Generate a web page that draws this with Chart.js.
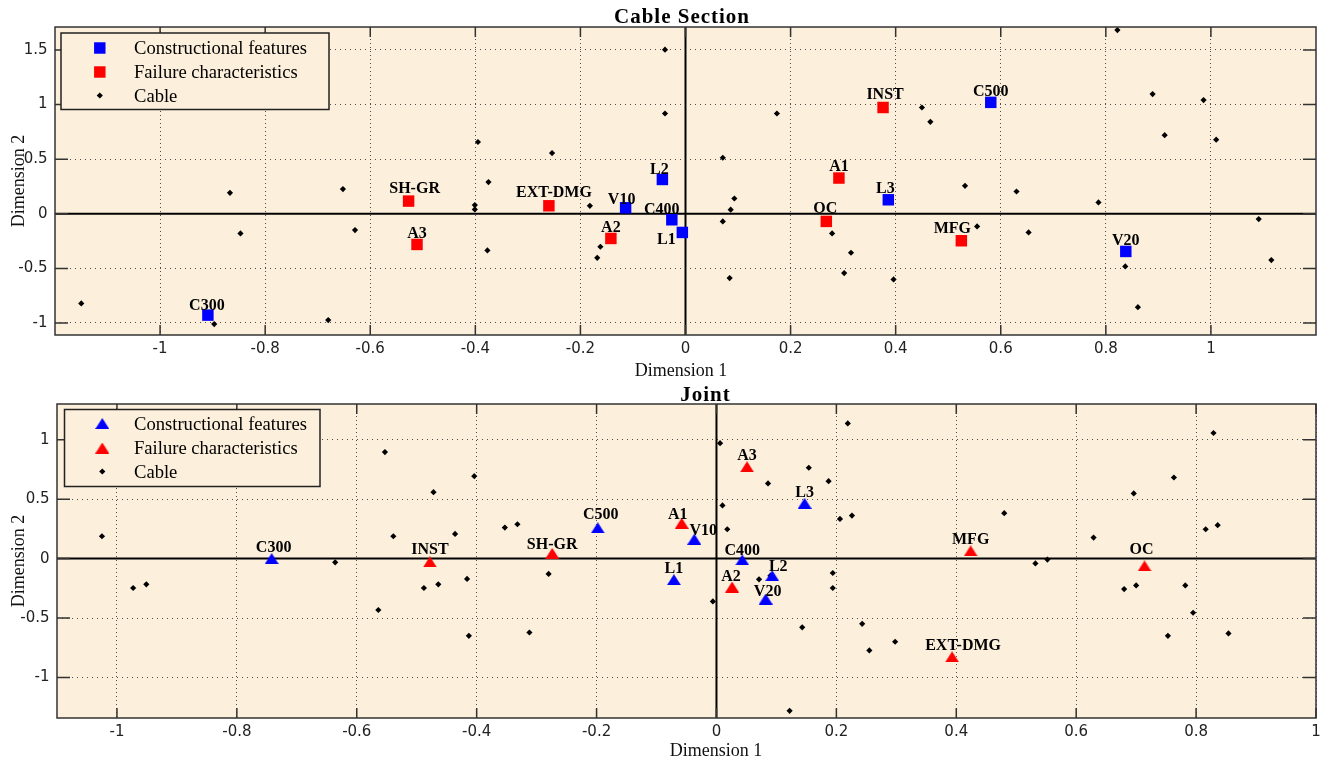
<!DOCTYPE html>
<html>
<head>
<meta charset="utf-8">
<title>Cable Section / Joint</title>
<script src="https://cdn.jsdelivr.net/npm/chart.js@4.4.0/dist/chart.umd.min.js"></script>
<style>
  html, body { margin: 0; padding: 0; background: #fff; }
  #wrap { position: relative; width: 1329px; height: 763px; overflow: hidden; background: #fff; }
  #wrap canvas { position: absolute; left: 0; }
  #cs { top: 0; width: 1329px; height: 380px; }
  #jt { top: 380px; width: 1329px; height: 383px; }
</style>
</head>
<body>
<div id="wrap">
  <canvas id="cs" width="1329" height="380"></canvas>
  <canvas id="jt" width="1329" height="383"></canvas>
</div>
<script>
// ---------------- Cable section ----------------
const csConsLabels = ['C300', 'C400', 'C500', 'L1', 'L2', 'L3', 'V10', 'V20'];
const csConsX = [-0.909, -0.026, 0.581, -0.006, -0.044, 0.386, -0.114, 0.838];
const csConsY = [-0.928, -0.055, 1.020, -0.171, 0.314, 0.128, 0.055, -0.345];

const csFailLabels = ['A1', 'A2', 'A3', 'SH-GR', 'EXT-DMG', 'INST', 'OC', 'MFG'];
const csFailX = [0.292, -0.142, -0.511, -0.527, -0.260, 0.376, 0.268, 0.525];
const csFailY = [0.327, -0.226, -0.281, 0.116, 0.073, 0.973, -0.070, -0.247];

const csCableX = [-0.039, 0.822, -0.039, 0.174, 0.450, 0.466, 0.889, 0.986, 0.912, 1.010,
                  -0.395, -0.254, 0.071, -0.375, 0.093, -0.867, -0.652, -0.401, -0.401, -0.182,
                  0.086, 0.071, 0.279, 0.315, 0.302, 0.084, -0.377, -0.162, -0.168, -0.629,
                  -0.847, -1.150, -0.897, -0.680, 0.532, 0.630, 0.786, 0.555, 0.653, 1.091,
                  1.115, 0.837, 0.861, 0.396];
const csCableY = [1.502, 1.682, 0.918, 0.918, 0.973, 0.842, 1.096, 1.041, 0.720, 0.678,
                  0.657, 0.556, 0.513, 0.290, 0.140, 0.192, 0.226, 0.080, 0.040, 0.073,
                  0.037, -0.070, -0.180, -0.357, -0.543, -0.589, -0.336, -0.302, -0.403, -0.149,
                  -0.180, -0.821, -1.010, -0.973, 0.256, 0.204, 0.104, -0.116, -0.171, -0.049,
                  -0.424, -0.482, -0.855, -0.601];

const csXTicks = [-1, -0.8, -0.6, -0.4, -0.2, 0, 0.2, 0.4, 0.6, 0.8, 1];
const csYTicks = [-1, -0.5, 0, 0.5, 1, 1.5];

// ---------------- Joint ----------------
const jtConsLabels = ['C300', 'C400', 'C500', 'L1', 'L2', 'L3', 'V10', 'V20'];
const jtConsX = [-0.742, 0.043, -0.198, -0.071, 0.093, 0.147, -0.037, 0.082];
const jtConsY = [0.000, -0.011, 0.259, -0.177, -0.143, 0.465, 0.163, -0.340];

const jtFailLabels = ['A1', 'A2', 'A3', 'SH-GR', 'EXT-DMG', 'INST', 'OC', 'MFG'];
const jtFailX = [-0.058, 0.026, 0.051, -0.274, 0.393, -0.478, 0.714, 0.424];
const jtFailY = [0.297, -0.239, 0.772, 0.044, -0.826, -0.028, -0.062, 0.065];

const jtCableX = [-1.025, -0.553, -0.539, -0.472, -0.636, -0.404, -0.436, -0.353, -0.332, 0.006,
                  0.219, 0.154, 0.086, 0.187, 0.010, 0.018, 0.206, 0.226, -0.416, -0.280,
                  0.071, 0.090, 0.194, 0.194, -0.006, 0.143, 0.243, 0.255, 0.122, -0.312,
                  -0.413, -0.488, -0.464, -0.973, -0.951, -0.564, 0.829, 0.763, 0.696, 0.480,
                  0.629, 0.816, 0.836, 0.532, 0.552, 0.680, 0.700, 0.782, 0.795, 0.753,
                  0.854, 0.298];
const jtCableY = [0.188, 0.896, 0.188, 0.559, -0.031, 0.693, 0.208, 0.261, 0.289, 0.971,
                  1.137, 0.764, 0.632, 0.651, 0.447, 0.247, 0.334, 0.362, -0.171, -0.129,
                  -0.174, -0.143, -0.121, -0.247, -0.360, -0.578, -0.548, -0.772, -1.280, -0.621,
                  -0.649, -0.247, -0.216, -0.247, -0.216, -0.432, 1.056, 0.682, 0.548, 0.382,
                  0.177, 0.247, 0.281, -0.040, -0.008, -0.256, -0.225, -0.225, -0.455, -0.649,
                  -0.629, -0.699];

const jtXTicks = [-1, -0.8, -0.6, -0.4, -0.2, 0, 0.2, 0.4, 0.6, 0.8, 1];
const jtYTicks = [-1, -0.5, 0, 0.5, 1];

const seriesNames = ['Constructional features', 'Failure characteristics', 'Cable'];

// Label placement tweaks (pixel offsets of the text centre from the marker)
const csLabelShift = {
  'C400': { dx: -10, dy: -11 }, 'L1': { dx: -16, dy: 6 }, 'V10': { dx: -4, dy: -9 },
  'MFG': { dx: -9, dy: -13 }, 'SH-GR': { dx: 6, dy: -13 }, 'EXT-DMG': { dx: 5, dy: -14 },
  'INST': { dx: 2, dy: -14 }, 'OC': { dx: -1, dy: -14 }, 'L2': { dx: -3, dy: -11 },
  'L3': { dx: -3, dy: -12 }, 'C300': { dx: -1, dy: -10 }
};
const jtLabelShift = {
  'V10': { dx: 9, dy: -10 }, 'EXT-DMG': { dx: 11, dy: -12 }, 'OC': { dx: -3, dy: -17 },
  'L2': { dx: 6, dy: -10 }, 'C500': { dx: 3, dy: -14 }, 'A1': { dx: -4, dy: -10 },
  'SH-GR': { dx: 0, dy: -10 }, 'C400': { dx: 0, dy: -10 }, 'A2': { dx: -1, dy: -11 },
  'V20': { dx: 2, dy: -8 }, 'C300': { dx: 2, dy: -12 }, 'INST': { dx: 0, dy: -13 }
};

// ---------------- styling ----------------
const SERIF = '"Liberation Serif", "Times New Roman", Times, serif';
const SANS = '"DejaVu Sans", "Liberation Sans", sans-serif';
const FACE = 'rgb(252,239,219)';
const BLUE = '#0000ff';
const RED = '#ff0000';

function triangleSprite(color) {
  const c = document.createElement('canvas');
  c.width = 14; c.height = 11;
  const g = c.getContext('2d');
  g.fillStyle = color;
  g.beginPath();
  g.moveTo(7, 0); g.lineTo(14, 11); g.lineTo(0, 11);
  g.closePath();
  g.fill();
  return c;
}

function pairs(xs, ys) { return xs.map((x, i) => ({ x: x, y: ys[i] })); }
function fmtTick(v) { return String(Math.round(v * 10) / 10); }

function markerSet(label, xs, ys, names, style, color, radius) {
  return {
    label: label, data: pairs(xs, ys), pointLabels: names,
    pointStyle: style, pointRadius: radius, pointHoverRadius: radius,
    backgroundColor: color, borderColor: color, pointBorderWidth: 0, borderWidth: 0
  };
}

function drawMarker(ctx, ds, x, y) {
  const st = ds.pointStyle, r = ds.pointRadius;
  ctx.fillStyle = ds.backgroundColor;
  if (typeof st === 'object') {
    ctx.drawImage(st, x - st.width / 2, y - st.height / 2);
  } else if (st === 'rect') {
    const h = Math.SQRT1_2 * r;
    ctx.fillRect(x - h, y - h, 2 * h, 2 * h);
  } else {
    ctx.beginPath();
    ctx.moveTo(x - r, y); ctx.lineTo(x, y - r); ctx.lineTo(x + r, y); ctx.lineTo(x, y + r);
    ctx.closePath(); ctx.fill();
  }
}

// Axes decoration in the classic figure style: face colour, origin lines,
// box frame with inward ticks, point captions, boxed legend and titles.
function makeDecor(spec) {
  return {
    id: 'decor',
    beforeDraw(chart) {
      const { ctx, chartArea: a } = chart;
      ctx.save();
      ctx.fillStyle = FACE;
      ctx.fillRect(a.left, a.top, a.right - a.left, a.bottom - a.top);
      ctx.restore();
    },
    beforeDatasetsDraw(chart) {
      const { ctx, chartArea: a, scales } = chart;
      const x0 = scales.x.getPixelForValue(0), y0 = scales.y.getPixelForValue(0);
      ctx.save();
      ctx.strokeStyle = '#000';
      ctx.lineWidth = 2;
      ctx.beginPath();
      ctx.moveTo(a.left, y0); ctx.lineTo(a.right, y0);
      ctx.moveTo(x0, a.top); ctx.lineTo(x0, a.bottom);
      ctx.stroke();
      ctx.restore();
    },
    afterDatasetsDraw(chart) {
      const { ctx, chartArea: a, scales } = chart;
      ctx.save();

      // frame and inward tick marks
      ctx.strokeStyle = '#333';
      ctx.lineWidth = 1.5;
      ctx.strokeRect(a.left, a.top, a.right - a.left, a.bottom - a.top);
      ctx.beginPath();
      scales.x.ticks.forEach(t => {
        const px = scales.x.getPixelForValue(t.value);
        ctx.moveTo(px, a.bottom); ctx.lineTo(px, a.bottom - 10);
        ctx.moveTo(px, a.top); ctx.lineTo(px, a.top + 10);
      });
      scales.y.ticks.forEach(t => {
        const py = scales.y.getPixelForValue(t.value);
        ctx.moveTo(a.left, py); ctx.lineTo(a.left + 13, py);
        ctx.moveTo(a.right, py); ctx.lineTo(a.right - 13, py);
      });
      ctx.stroke();

      // point captions
      ctx.fillStyle = '#000';
      ctx.font = 'bold 16px ' + SERIF;
      ctx.textAlign = 'center';
      ctx.textBaseline = 'alphabetic';
      chart.data.datasets.forEach((ds, di) => {
        if (!ds.pointLabels) return;
        const meta = chart.getDatasetMeta(di);
        meta.data.forEach((pt, i) => {
          const name = ds.pointLabels[i];
          const s = spec.labelShift[name] || { dx: 0, dy: -12 };
          ctx.fillText(name, pt.x + s.dx, pt.y + s.dy + 5.3);
        });
      });

      // legend
      const L = spec.legend;
      ctx.fillStyle = FACE;
      ctx.fillRect(L.x, L.y, L.w, L.h);
      ctx.strokeStyle = '#222';
      ctx.lineWidth = 1.5;
      ctx.strokeRect(L.x, L.y, L.w, L.h);
      ctx.font = '18.6px ' + SERIF;
      ctx.textAlign = 'left';
      chart.data.datasets.forEach((ds, di) => {
        const ry = L.rows[di];
        drawMarker(ctx, ds, L.markerX, ry);
        ctx.fillStyle = '#000';
        ctx.fillText(ds.label, L.textX, ry + 6.1);
      });

      // titles
      ctx.fillStyle = '#000';
      ctx.textAlign = 'center';
      ctx.font = 'bold 21px ' + SERIF;
      if ('letterSpacing' in ctx) ctx.letterSpacing = '1px';
      ctx.fillText(spec.title.text, spec.title.x, spec.title.y);
      if ('letterSpacing' in ctx) ctx.letterSpacing = '0px';
      ctx.font = '18px ' + SERIF;
      ctx.fillStyle = '#111';
      ctx.fillText('Dimension 1', spec.xTitle.x, spec.xTitle.y);
      ctx.save();
      ctx.translate(23.5, (a.top + a.bottom) / 2);
      ctx.rotate(-Math.PI / 2);
      ctx.fillText('Dimension 2', 0, 0);
      ctx.restore();

      ctx.restore();
    }
  };
}

function makeChart(id, spec) {
  const gridStyle = { color: 'rgba(50,50,50,0.85)', lineWidth: 1, drawTicks: false };
  return new Chart(document.getElementById(id), {
    type: 'scatter',
    data: { datasets: spec.datasets },
    options: {
      responsive: false,
      animation: false,
      events: [],
      layout: { padding: { top: spec.padTop, right: 13, left: 0, bottom: 0 } },
      plugins: { legend: { display: false }, tooltip: { enabled: false }, title: { display: false } },
      scales: {
        x: {
          type: 'linear', min: spec.xRange[0], max: spec.xRange[1],
          afterBuildTicks: s => { s.ticks = spec.xTicks.map(v => ({ value: v })); },
          afterFit: s => { s.height = spec.xAxisH; },
          ticks: { color: '#222', font: { family: SANS, size: 15 }, padding: 5, maxRotation: 0, autoSkip: false,
                   callback: v => fmtTick(v) },
          grid: gridStyle,
          border: { display: false, dash: [1, 3] }
        },
        y: {
          type: 'linear', min: spec.yRange[0], max: spec.yRange[1],
          afterBuildTicks: s => { s.ticks = spec.yTicks.map(v => ({ value: v })); },
          afterFit: s => { s.width = spec.yAxisW; },
          ticks: { color: '#222', font: { family: SANS, size: 15 }, padding: 7.5, autoSkip: false,
                   callback: v => fmtTick(v) },
          grid: gridStyle,
          border: { display: false, dash: [1, 4] }
        }
      }
    },
    plugins: [makeDecor(spec)]
  });
}

const triBlue = triangleSprite(BLUE);
const triRed = triangleSprite(RED);

makeChart('cs', {
  padTop: 27, xAxisH: 45, yAxisW: 55,
  xRange: [-1.2, 1.2], yRange: [-1.11, 1.71],
  xTicks: csXTicks, yTicks: csYTicks,
  labelShift: csLabelShift,
  title: { text: 'Cable Section', x: 682, y: 23 },
  xTitle: { x: 681, y: 375.5 },
  legend: { x: 61, y: 33, w: 268, h: 76.5, markerX: 99.8, textX: 134, rows: [48, 72, 95.5] },
  datasets: [
    markerSet(seriesNames[0], csConsX, csConsY, csConsLabels, 'rect', BLUE, 8.1),
    markerSet(seriesNames[1], csFailX, csFailY, csFailLabels, 'rect', RED, 8.1),
    markerSet(seriesNames[2], csCableX, csCableY, null, 'rectRot', '#000', 3.1)
  ]
});

makeChart('jt', {
  padTop: 24, xAxisH: 45, yAxisW: 57,
  xRange: [-1.1, 1], yRange: [-1.34, 1.3],
  xTicks: jtXTicks, yTicks: jtYTicks,
  labelShift: jtLabelShift,
  title: { text: 'Joint', x: 705.5, y: 20.5 },
  xTitle: { x: 716, y: 376 },
  legend: { x: 64.5, y: 29.5, w: 255.5, h: 77, markerX: 102.3, textX: 134, rows: [43.5, 68, 91.5] },
  datasets: [
    markerSet(seriesNames[0], jtConsX, jtConsY, jtConsLabels, triBlue, BLUE, 7),
    markerSet(seriesNames[1], jtFailX, jtFailY, jtFailLabels, triRed, RED, 7),
    markerSet(seriesNames[2], jtCableX, jtCableY, null, 'rectRot', '#000', 3.1)
  ]
});
</script>
</body>
</html>
